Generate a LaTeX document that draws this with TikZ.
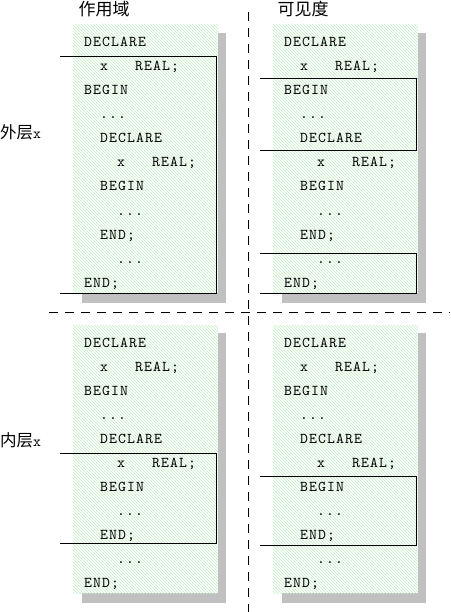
\documentclass[tikz,border=0pt]{standalone}
\usepackage{fontspec}
\newfontfamily\codefont{lmmono10-regular}[Extension=.otf,LetterSpace=7.5]
\newfontfamily\cjk{Noto Sans CJK SC}
\usepackage{tikz}
\usetikzlibrary{patterns}
\definecolor{hatchgreen}{RGB}{196,240,196}
\definecolor{shadowgray}{RGB}{192,192,192}
\newcommand{\etcrow}{...}

\begin{document}
\begin{tikzpicture}[x=1pt,y=-1pt,line cap=butt,line join=miter,
  code/.style={anchor=base west,inner sep=0pt,font=\codefont\fontsize{15pt}{15pt}\selectfont},
  title/.style={inner sep=0pt,font=\cjk\fontsize{17pt}{17pt}\selectfont},
  side/.style={anchor=west,inner sep=0pt,font=\cjk\fontsize{16.5pt}{16.5pt}\selectfont},
  panel/.style={pattern=north west lines,pattern color=hatchgreen},
  shadow/.style={fill=shadowgray},
  frame/.style={line width=1pt},
  divider/.style={line width=1pt,dash pattern=on 9pt off 7pt}]
        \useasboundingbox (0,0) rectangle (450,612);
        \foreach \px/\py/\pan in {0/0/a,200/0/b,0/300/c,200/300/d}{
          \begin{scope}[shift={(\px,\py)}]
            \fill[shadow] (82,33) rectangle (226,303);
            \fill[white] (73,25) rectangle (218,293);
            \fill[panel] (73,25) rectangle (218,293);
            \node[code] (\pan1) at (84,47) {DECLARE};
            \node[code] (\pan2) at (100,71) {x\ \ \ REAL;};
            \node[code] (\pan3) at (84,95) {BEGIN};
            \node[code] (\pan4) at (100,119) {\etcrow};
            \node[code] (\pan5) at (100,143) {DECLARE};
            \node[code] (\pan6) at (117,167) {x\ \ \ REAL;};
            \node[code] (\pan7) at (100,191) {BEGIN};
            \node[code] (\pan8) at (117,215) {\etcrow};
            \node[code] (\pan9) at (100,239) {END;};
            \node[code] (\pan10) at (117,263) {\etcrow};
            \node[code] (\pan11) at (84,287) {END;};
          \end{scope}
        }
        \draw[frame] (60,57) -- (216,57) -- (216,293) -- (60,293);
        \draw[frame] (260,79) -- (416,79) -- (416,151) -- (260,151);
        \draw[frame] (260,253) -- (416,253) -- (416,293) -- (260,293);
        \draw[frame] (60,453) -- (216,453) -- (216,543) -- (60,543);
        \draw[frame] (260,476) -- (416,476) -- (416,545) -- (260,545);
        \draw[divider] (248,12) -- (248,612);
        \draw[divider] (49,312) -- (450,312);
        \node[title] (scope) at (104,9) {作用域};
        \node[title] (visible) at (303,9) {可见度};
        \node[side] (outer) at (0,132) {外层{\codefont\fontsize{15pt}{15pt}\selectfont x}};
        \node[side] (inner) at (0,440) {内层{\codefont\fontsize{15pt}{15pt}\selectfont x}};
    \end{tikzpicture}
\end{document}
